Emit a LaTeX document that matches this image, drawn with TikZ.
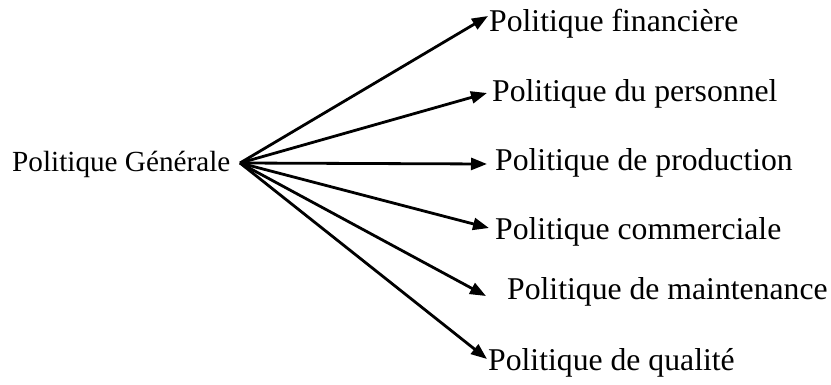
\documentclass[tikz,border=0pt]{standalone}
\usepackage{fontspec}
\setmainfont{Liberation Serif}
\usetikzlibrary{arrows.meta}
\begin{document}
\begin{tikzpicture}[x=1pt,y=-1pt,
  lbl/.style={anchor=base west,inner sep=0pt,font=\fontsize{31.7}{34}\selectfont},
  src/.style={anchor=base west,inner sep=0pt,font=\fontsize{29.2}{32}\selectfont},
  arr/.style={line width=2.8pt,-{Triangle[length=16pt,width=12pt]}}]
\useasboundingbox (0,0) rectangle (831,385);
\node[src] (g) at (12,172) {Politique Générale};
\coordinate (o) at (240,163);
\node[lbl] (a1) at (489,32) {Politique financière};
\node[lbl] (a2) at (492,102) {Politique du personnel};
\node[lbl] (a3) at (495,171) {Politique de production};
\node[lbl] (a4) at (495,240) {Politique commerciale};
\node[lbl] (a5) at (507,299) {Politique de maintenance};
\node[lbl] (a6) at (488,370) {Politique de qualité};
\coordinate (t1) at (488,16);
\coordinate (t2) at (487,93);
\coordinate (t3) at (487,164);
\coordinate (t4) at (489,228);
\coordinate (t5) at (486,296);
\coordinate (t6) at (487,359);
\foreach \i in {1,...,6} \draw[arr] (o) -- (t\i);
\end{tikzpicture}
\end{document}
